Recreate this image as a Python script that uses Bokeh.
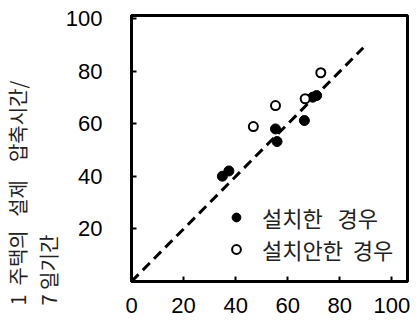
from bokeh.plotting import figure
from bokeh.models import Range1d, FixedTicker, Title, Legend, LegendItem
from bokeh.embed import file_html
from bokeh.resources import INLINE

NB = "\u00a0"

# Data
installed_x = [34.9, 37.4, 55.3, 55.9, 66.4, 69.6, 71.1]
installed_y = [40.1, 42.1, 58.1, 53.3, 61.3, 70.2, 70.8]
not_installed_x = [46.8, 55.3, 66.7, 72.7]
not_installed_y = [59.0, 67.0, 69.6, 79.5]
line_x = [0, 89]
line_y = [0, 89]
x_ticks = [0, 20, 40, 60, 80, 100]
y_ticks = [20, 40, 60, 80, 100]
legend_labels = ["설치한" + NB * 2 + " 경우", "설치안한" + NB + " 경우"]
ylabel_line1 = "1" + NB + " 주택의" + NB * 2 + " 설제" + NB * 3 + " 압축시간/"
ylabel_line2 = "7 일기간"

p = figure(width=416, height=321, output_backend="svg", toolbar_location=None,
           x_range=Range1d(0, 106), y_range=Range1d(0, 101.3),
           min_border_left=131, min_border_right=9, min_border_top=15, min_border_bottom=40)
p.grid.visible = False
p.background_fill_color = "white"
p.border_fill_color = "white"
p.outline_line_color = "black"
p.outline_line_width = 3

for ax in (p.xaxis[0], p.yaxis[0]):
    ax.axis_line_color = "black"
    ax.axis_line_width = 3
    ax.major_tick_in = 5
    ax.major_tick_out = 0
    ax.major_tick_line_width = 2
    ax.minor_tick_line_color = None
    ax.major_label_text_font = "Liberation Sans"
    ax.major_label_text_font_size = "22px"
    ax.major_label_text_color = "black"

p.xaxis[0].ticker = FixedTicker(ticks=x_ticks)
p.yaxis[0].ticker = FixedTicker(ticks=y_ticks)
p.xaxis[0].major_label_standoff = 16
p.yaxis[0].major_label_standoff = 29

p.line(line_x, line_y, line_color="black", line_width=3, line_dash="10 6")
r1 = p.scatter(installed_x, installed_y, size=10, marker="circle",
               fill_color="black", line_color="black")
r2 = p.scatter(not_installed_x, not_installed_y, size=9, marker="circle",
               fill_color="white", line_color="black", line_width=2)

legend = Legend(items=[LegendItem(label=legend_labels[0], renderers=[r1]),
                       LegendItem(label=legend_labels[1], renderers=[r2])],
                location=(94, 16), background_fill_alpha=0, border_line_alpha=0,
                padding=0, margin=0, spacing=0, glyph_width=22, glyph_height=22,
                label_height=22, label_standoff=15,
                label_text_font="Noto Sans CJK KR", label_text_font_size="22px",
                label_text_color="#222")
p.add_layout(legend, "center")

for txt in (ylabel_line2, ylabel_line1):
    p.add_layout(Title(text=txt, align="left", offset=-24, standoff=0,
                       text_font="Noto Sans CJK KR", text_font_size="20px",
                       text_font_style="normal", text_color="#222"), "left")

open("out.html", "w").write(file_html(p, INLINE))
